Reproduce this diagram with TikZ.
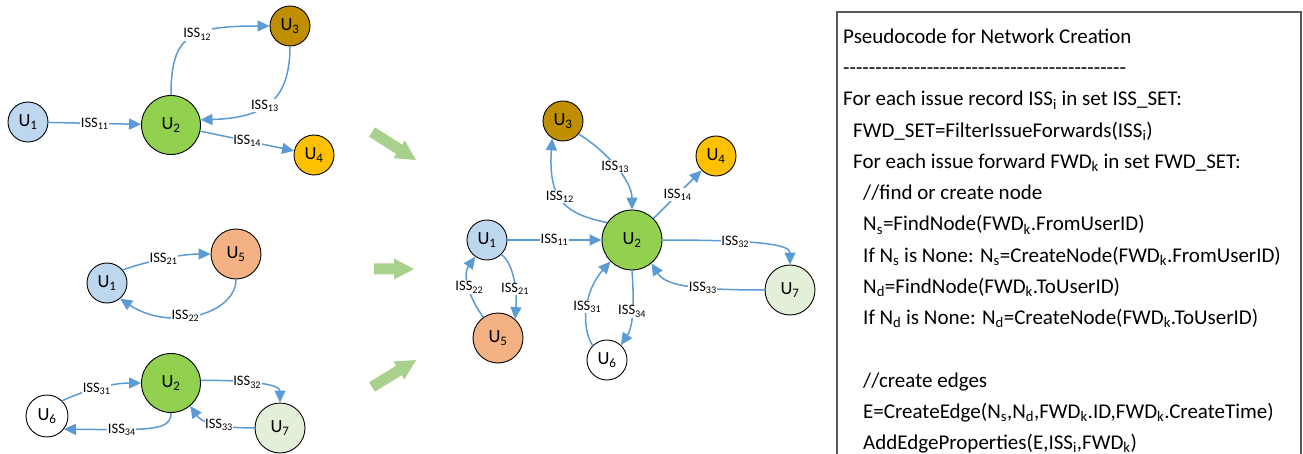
\documentclass[tikz,border=0pt]{standalone}
\usepackage{fontspec}
\setmainfont{Carlito}
\newfontfamily\dashfont{Carlito}[Ligatures=TeXOff]
\usetikzlibrary{arrows.meta,calc}
\definecolor{edgeblue}{HTML}{5B9BD5}
\definecolor{uone}{HTML}{BDD7EE}
\definecolor{utwo}{HTML}{92D050}
\definecolor{uthree}{HTML}{BF8F00}
\definecolor{ufour}{HTML}{FFC000}
\definecolor{ufive}{HTML}{F4B183}
\definecolor{useven}{HTML}{E2F0D9}
\definecolor{arrowgreen}{HTML}{A9D18E}
\definecolor{boxgray}{HTML}{595959}
\newcommand\grarrow[2]{%
  \path ($(#2)!20pt!(#1)$) coordinate (hb);
  \fill[arrowgreen] ($(#1)!5.5pt!90:(#2)$) -- ($(hb)!5.5pt!90:(#2)$) -- ($(hb)!10.5pt!90:(#2)$) -- (#2) -- ($(hb)!10.5pt!-90:(#2)$) -- ($(hb)!5.5pt!-90:(#2)$) -- ($(#1)!5.5pt!-90:(#2)$) -- cycle;}
\begin{document}
\begin{tikzpicture}[x=1pt,y=-1pt,
  unode/.style={circle,draw=black,line width=0.9pt,inner sep=0pt,font=\fontsize{18.5}{18.5}\selectfont},
  sm/.style={minimum size=40},
  md/.style={minimum size=50},
  lg/.style={minimum size=59},
  edge/.style={draw=edgeblue,line width=1.5pt,-{Triangle[length=12pt,width=11pt]}},
  elab/.style={fill=white,inner sep=0.6pt,font=\fontsize{14.5}{14.5}\selectfont},
  code/.style={anchor=base west,inner sep=0pt,font=\fontsize{21}{21}\selectfont}]
\useasboundingbox (0,0) rectangle (1303,454);

% ---------- group 1 ----------
\node[unode,sm,fill=uone] (a1) at (28,122) {U\textsubscript{1}};
\node[unode,lg,fill=utwo] (a2) at (171,125) {U\textsubscript{2}};
\node[unode,sm,fill=uthree] (a3) at (290,26) {U\textsubscript{3}};
\node[unode,sm,fill=ufour] (a4) at (314,155) {U\textsubscript{4}};
\draw[edge] (a1) -- node[elab]{ISS\textsubscript{11}} (a2);
\draw[edge] (a2.north) .. controls (171,35) and (190,26) .. node[elab,pos=0.57]{ISS\textsubscript{12}} (a3.west);
\draw[edge] (a3.south) .. controls (290,100) and (265,118) .. node[elab,pos=0.55]{ISS\textsubscript{13}} (a2.10);
\draw[edge] (a2) -- node[elab]{ISS\textsubscript{14}} (a4);

% ---------- group 2 ----------
\node[unode,sm,fill=uone] (b1) at (107,283) {U\textsubscript{1}};
\node[unode,md,fill=ufive] (b5) at (236,254) {U\textsubscript{5}};
\draw[edge] (b1.40) .. controls (145,262) and (180,254) .. node[elab,pos=0.5]{ISS\textsubscript{21}} (b5.west);
\draw[edge] (b5.south) .. controls (236,314) and (170,332) .. node[elab,pos=0.58]{ISS\textsubscript{22}} (b1.-50);

% ---------- group 3 ----------
\node[unode,lg,fill=utwo] (c2) at (171,383) {U\textsubscript{2}};
\node[unode,sm,fill=white,minimum size=42] (c6) at (47,416) {U\textsubscript{6}};
\node[unode,md,fill=useven] (c7) at (280,428) {U\textsubscript{7}};
\draw[edge] (c6.45) .. controls (80,392) and (110,383) .. node[elab,pos=0.5]{ISS\textsubscript{31}} (c2.west);
\draw[edge] (c2.south) .. controls (171,431) and (150,430) .. node[elab,pos=0.72]{ISS\textsubscript{34}} (c6.-38);
\draw[edge] (c2.5) .. controls (255,380) and (280,385) .. node[elab,pos=0.35]{ISS\textsubscript{32}} (c7.north);
\draw[edge] (c7.west) .. controls (210,428) and (200,420) .. node[elab,pos=0.35]{ISS\textsubscript{33}} (c2.-50);

% ---------- green arrows ----------
\coordinate (g1s) at (372,132); \coordinate (g1t) at (416,160);
\coordinate (g2s) at (374,269); \coordinate (g2t) at (414,269);
\coordinate (g3s) at (372,387); \coordinate (g3t) at (416,360);
\grarrow{g1s}{g1t}
\grarrow{g2s}{g2t}
\grarrow{g3s}{g3t}

% ---------- merged network ----------
\node[unode,sm,fill=uthree] (m3) at (563,121) {U\textsubscript{3}};
\node[unode,sm,fill=ufour] (m4) at (716,156) {U\textsubscript{4}};
\node[unode,sm,fill=uone] (m1) at (487,240) {U\textsubscript{1}};
\node[unode,minimum size=60,fill=utwo] (m2) at (632,240) {U\textsubscript{2}};
\node[unode,md,fill=useven] (m7) at (790,290) {U\textsubscript{7}};
\node[unode,md,fill=ufive] (m5) at (498,338) {U\textsubscript{5}};
\node[unode,sm,fill=white] (m6) at (607,360) {U\textsubscript{6}};
\draw[edge] (m1) -- node[elab]{ISS\textsubscript{11}} (m2);
\draw[edge] (m2.145) .. controls (565,214) and (548,200) .. node[elab,pos=0.55]{ISS\textsubscript{12}} (m3.-122);
\draw[edge] (m3.-40) .. controls (605,150) and (632,180) .. node[elab,pos=0.5]{ISS\textsubscript{13}} (m2.north);
\draw[edge] (m2) -- node[elab]{ISS\textsubscript{14}} (m4);
\draw[edge] (m2.east) .. controls (765,240) and (790,245) .. node[elab,pos=0.3]{ISS\textsubscript{32}} (m7.north);
\draw[edge] (m7.west) .. controls (690,290) and (665,285) .. node[elab,pos=0.35]{ISS\textsubscript{33}} (m2.-50);
\draw[edge] (m2.south) .. controls (634,300) and (634,325) .. node[elab,pos=0.5]{ISS\textsubscript{34}} (m6.47);
\draw[edge] (m6.135) .. controls (580,325) and (585,290) .. node[elab,pos=0.5]{ISS\textsubscript{31}} (m2.-135);
\draw[edge] (m1.-45) .. controls (515,265) and (517,295) .. node[elab,pos=0.6]{ISS\textsubscript{21}} (m5.48);
\draw[edge] (m5.125) .. controls (470,300) and (462,275) .. node[elab,pos=0.5]{ISS\textsubscript{22}} (m1.-125);

% ---------- pseudocode box ----------
\draw[boxgray,line width=1.2pt] (837,456) -- (837,12) -- (1301,12) -- (1301,456);
\node[code] (p0) at (843,43.5) {Pseudocode for Network Creation};
\node[code] (p1) at (843,74.75) {\dashfont --------------------------------------------};
\node[code] (p2) at (843,106) {For each issue record ISS\textsubscript{i} in set ISS\_SET:};
\node[code] (p3) at (853,137.25) {FWD\_SET=FilterIssueForwards(ISS\textsubscript{i})};
\node[code] (p4) at (853,168.5) {For each issue forward FWD\textsubscript{k} in set FWD\_SET:};
\node[code] (p5) at (863,199.75) {//find or create node};
\node[code] (p6) at (863,231) {N\textsubscript{s}=FindNode(FWD\textsubscript{k}.FromUserID)};
\node[code] (p7) at (863,262.25) {If N\textsubscript{s} is None: N\textsubscript{s}=CreateNode(FWD\textsubscript{k}.FromUserID)};
\node[code] (p8) at (863,293.5) {N\textsubscript{d}=FindNode(FWD\textsubscript{k}.ToUserID)};
\node[code] (p9) at (863,324.75) {If N\textsubscript{d} is None: N\textsubscript{d}=CreateNode(FWD\textsubscript{k}.ToUserID)};
\node[code] (p11) at (863,387.25) {//create edges};
\node[code] (p12) at (863,418.5) {E=CreateEdge(N\textsubscript{s},N\textsubscript{d},FWD\textsubscript{k}.ID,FWD\textsubscript{k}.CreateTime)};
\node[code] (p13) at (863,449.75) {AddEdgeProperties(E,ISS\textsubscript{i},FWD\textsubscript{k})};
\end{tikzpicture}
\end{document}
